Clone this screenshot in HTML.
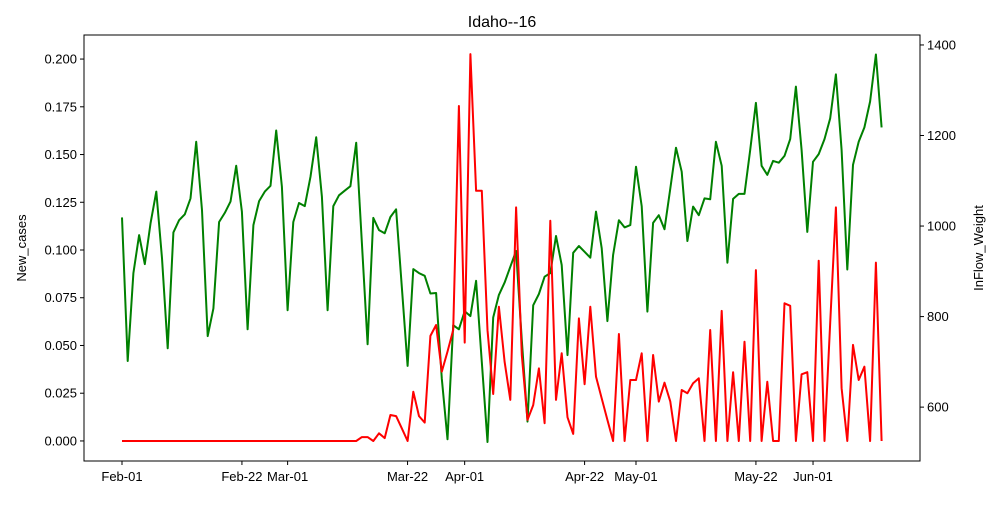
<!DOCTYPE html>
<html><head><meta charset="utf-8"><style>
body{margin:0;background:#fff;}
svg text{font-family:"Liberation Sans","DejaVu Sans",sans-serif;fill:#000;}
</style></head><body>
<svg id="chart" width="1000" height="500" xmlns="http://www.w3.org/2000/svg">
<rect width="1000" height="500" fill="#fff"/>
<text x="502" y="27" font-size="16" text-anchor="middle">Idaho--16</text>
<text transform="translate(26,248) rotate(-90)" font-size="13" text-anchor="middle">New_cases</text>
<text transform="translate(983,248) rotate(-90)" font-size="13" text-anchor="middle">InFlow_Weight</text>
<g id="axes"></g>
<g id="series"></g>
<rect x="84" y="35" width="836" height="426" fill="none" stroke="#000" stroke-width="1"/>
</svg>
<script>
const xTickLabels = ["Feb-01","Feb-22","Mar-01","Mar-22","Apr-01","Apr-22","May-01","May-22","Jun-01"];
const xTickDays = [0,21,29,50,60,81,90,111,121];
const leftTicks = [0,0.025,0.05,0.075,0.1,0.125,0.15,0.175,0.2];
const rightTicks = [600,800,1000,1200,1400];
const newCases = [0,0,0,0,0,0,0,0,0,0,0,0,0,0,0,0,0,0,0,0,0,0,0,0,0,0,0,0,0,0,0,0,0,0,0,0,0,0,0,0,0,0,
0.002,0.002,0,0.004,0.0015,0.0136,0.013,0.0066,0,0.0258,0.013,0.0096,0.055,0.0607,0.0363,0.0468,0.0581,0.1754,0.0515,0.2026,0.131,0.131,0.058,0.0246,0.0703,
0.0415,0.0215,0.1223,0.045,0.011,0.0188,0.038,0.0093,0.1153,0.0215,0.0459,0.0124,0.0037,0.0642,0.0297,0.0703,0.0337,0.0223,0.011,0,0.056,0,0.0319,0.0319,0.0459,0,0.045,0.0206,0.0305,0.0206,0,0.0267,0.025,
0.0302,0.0328,0,0.0581,0,0.0681,0,0.036,0,0.052,0,0.0895,0,0.031,0,0,0.0721,0.0708,0,0.0349,0.036,0,0.0944,0,0.0619,0.1223,0.0276,0,0.0503,0.0319,0.0389,0,0.0934,0];
const inflowWeight = [1019,702,896,980,916,1007,1076,929,730,986,1013,1026,1061,1186,1035,757,818,1009,1029,1054,1133,1032,772,1002,1055,1076,1089,1211,1087,814,
1009,1051,1044,1109,1196,1065,814,1044,1068,1078,1088,1184,962,739,1018,991,984,1020,1037,866,691,905,896,890,851,852,663,529,781,772,812,801,879,700,523,798,
848,875,910,945,748,568,825,850,888,896,978,914,715,941,956,943,930,1032,951,790,936,1013,997,1002,1131,1044,811,1007,1024,993,1083,1173,1120,967,
1043,1024,1061,1059,1186,1133,919,1060,1071,1071,1168,1272,1133,1113,1144,1140,1155,1192,1308,1168,987,1142,1159,1192,1238,1335,1168,904,1135,1186,1218,1275,1379,1218];

const NS="http://www.w3.org/2000/svg";
const X0=84,X1=920,Y0=35,Y1=461;
const xS = d => 122 + d*5.711;
const yL = v => Y1 - (v - (-0.0105))/(0.2126+0.0105)*(Y1-Y0);
const yR = v => Y1 - (v - 481)/(1422-481)*(Y1-Y0);
const axes=document.getElementById('axes');
function mk(tag,attrs,parent){const e=document.createElementNS(NS,tag);for(const k in attrs)e.setAttribute(k,attrs[k]);parent.appendChild(e);return e;}

xTickDays.forEach((d,i)=>{
  const x=xS(d);
  const t=mk('line',{x1:x,x2:x,y1:Y1,y2:Y1+4,stroke:'#000'},axes);
  
  
  const tx=mk('text',{x:x,y:Y1+20,'font-size':13,'text-anchor':'middle'},axes);
  tx.textContent=xTickLabels[i];
  
  
});
leftTicks.forEach(v=>{
  const y=yL(v);
  const t=mk('line',{x1:X0-4,x2:X0,y1:y,y2:y,stroke:'#000'},axes);
  
  
  const tx=mk('text',{x:X0-7,y:y+4.5,'font-size':13,'text-anchor':'end'},axes);
  tx.textContent=v.toFixed(3);
  
  
});
rightTicks.forEach(v=>{
  const y=yR(v);
  const t=mk('line',{x1:X1,x2:X1+4,y1:y,y2:y,stroke:'#000'},axes);
  
  
  const tx=mk('text',{x:X1+7,y:y+4.5,'font-size':13,'text-anchor':'start'},axes);
  tx.textContent=String(v);
  
  
});
const series=document.getElementById('series');
const gp=inflowWeight.map((v,i)=>xS(i).toFixed(1)+','+yR(v).toFixed(1)).join(' ');
const gl=mk('polyline',{points:gp,fill:'none',stroke:'#008000','stroke-width':2,'stroke-linejoin':'round'},series);


const rp=newCases.map((v,i)=>xS(i).toFixed(1)+','+yL(v).toFixed(1)).join(' ');
const rl=mk('polyline',{points:rp,fill:'none',stroke:'#ff0000','stroke-width':2,'stroke-linejoin':'round'},series);


</script>
</body></html>
